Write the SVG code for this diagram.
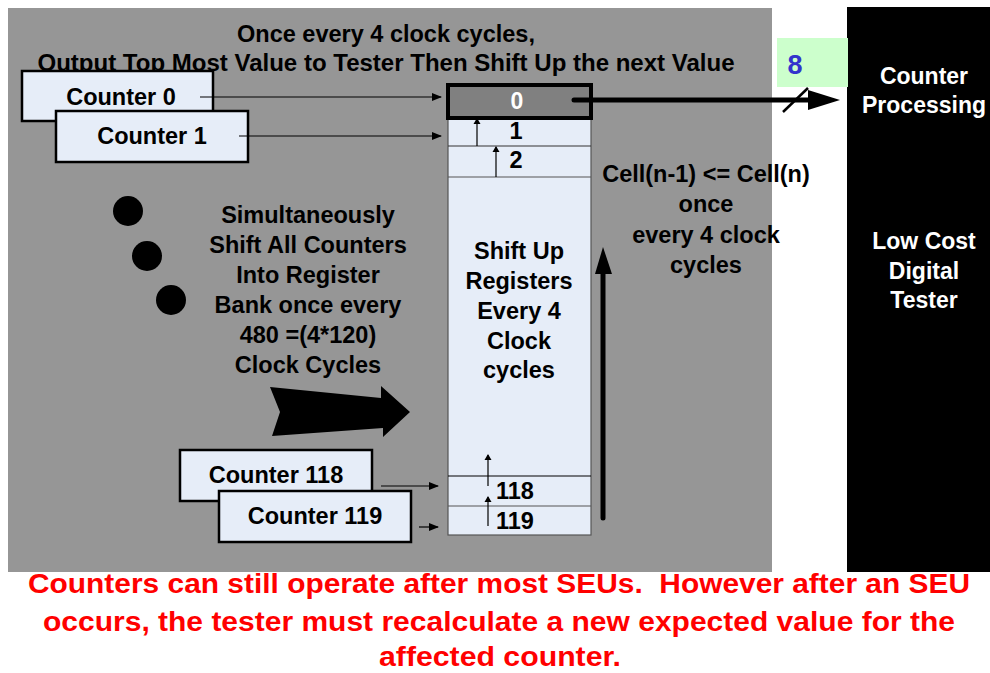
<svg xmlns="http://www.w3.org/2000/svg" width="990" height="673" viewBox="0 0 990 673">
<defs>
<style>
text{font-family:"Liberation Sans",Arial,sans-serif;font-weight:bold;}
.t{font-size:23.5px;fill:#000;text-anchor:middle;}
.cb{fill:#e6edf8;stroke:#000;stroke-width:2.5;}
.cl{font-size:23.5px;fill:#000;text-anchor:middle;}
.w{font-size:23px;fill:#fff;text-anchor:middle;}
.red{font-size:28px;fill:#ff0000;text-anchor:middle;}
.thin{stroke:#000;stroke-width:1.2;fill:none;}
.cell{fill:#e6edf8;stroke:#555;stroke-width:1.2;}
</style>
<marker id="ah" markerWidth="10" markerHeight="8" refX="9" refY="4" orient="auto" markerUnits="userSpaceOnUse">
<path d="M0,0 L10,4 L0,8 z" fill="#000"/>
</marker>
<marker id="ahs" markerWidth="6" markerHeight="10" refX="5" refY="5" orient="auto" markerUnits="userSpaceOnUse">
<path d="M0,1.5 L6,5 L0,8.5 z" fill="#000"/>
</marker>
</defs>
<rect x="0" y="0" width="990" height="673" fill="#fff"/>
<rect x="8" y="8" width="764" height="564" fill="#969696"/>
<g id="tester">
<rect x="847" y="7" width="143" height="565" fill="#000"/>
<text class="w" x="924" y="84">Counter</text>
<text class="w" x="924" y="113">Processing</text>
<text class="w" x="924" y="249">Low Cost</text>
<text class="w" x="924" y="279">Digital</text>
<text class="w" x="924" y="308">Tester</text>
</g>
<g id="bus-width">
<rect x="777" y="38" width="71" height="49" fill="#ccffcc"/>
<text x="795" y="74" style="font-size:27px;fill:#3333cc;text-anchor:middle;">8</text>
</g>
<g id="title">
<text class="t" x="386" y="42">Once every 4 clock cycles,</text>
<text class="t" x="386" y="71" textLength="697" lengthAdjust="spacingAndGlyphs">Output Top Most Value to Tester Then Shift Up the next Value</text>
</g>
<g id="register-bank">
<rect class="cell" x="448" y="118" width="143" height="417"/>
<line x1="448" y1="146" x2="591" y2="146" stroke="#333" stroke-width="1.2"/>
<line x1="448" y1="177" x2="591" y2="177" stroke="#555" stroke-width="1.2"/>
<line x1="448" y1="476" x2="591" y2="476" stroke="#000" stroke-width="1.2"/>
<line x1="448" y1="506" x2="591" y2="506" stroke="#555" stroke-width="1.2"/>
<rect x="448" y="85" width="143" height="33" fill="#808080" stroke="#000" stroke-width="4"/>
<text class="w" x="517" y="109">0</text>
<text class="cl" x="516" y="139">1</text>
<text class="cl" x="516" y="168">2</text>
<text class="cl" x="515" y="499">118</text>
<text class="cl" x="515" y="529">119</text>
<text class="cl" x="519" y="259">Shift Up</text>
<text class="cl" x="519" y="289">Registers</text>
<text class="cl" x="519" y="319">Every 4</text>
<text class="cl" x="519" y="349">Clock</text>
<text class="cl" x="519" y="378">cycles</text>
</g>
<g id="counter0">
<rect class="cb" x="22" y="71" width="191" height="50"/>
<text class="cl" x="121" y="105">Counter 0</text>
</g>
<g id="counter1">
<rect class="cb" x="56" y="111" width="192" height="51"/>
<text class="cl" x="152" y="144">Counter 1</text>
</g>
<g id="counter118">
<rect class="cb" x="180" y="450" width="192" height="51"/>
<text class="cl" x="276" y="483">Counter 118</text>
</g>
<g id="counter119">
<rect class="cb" x="219" y="491" width="192" height="51"/>
<text class="cl" x="315" y="524">Counter 119</text>
</g>
<g id="dots">
<circle cx="128" cy="211" r="15" fill="#000"/>
<circle cx="147" cy="256" r="15" fill="#000"/>
<circle cx="171" cy="300" r="15" fill="#000"/>
</g>
<g id="notes">
<text class="t" x="308" y="223">Simultaneously</text>
<text class="t" x="308" y="253">Shift All Counters</text>
<text class="t" x="308" y="283">Into Register</text>
<text class="t" x="308" y="313">Bank once every</text>
<text class="t" x="308" y="343">480 =(4*120)</text>
<text class="t" x="308" y="373">Clock Cycles</text>
<text class="t" x="706" y="182">Cell(n-1) &lt;= Cell(n)</text>
<text class="t" x="706" y="212">once</text>
<text class="t" x="706" y="243">every 4 clock</text>
<text class="t" x="706" y="273">cycles</text>
</g>
<g id="connectors">
<line class="thin" x1="200" y1="97" x2="441" y2="97" marker-end="url(#ah)"/>
<line class="thin" x1="239" y1="136" x2="441" y2="136" marker-end="url(#ah)"/>
<line class="thin" x1="381" y1="486" x2="438" y2="486" marker-end="url(#ah)"/>
<line class="thin" x1="419" y1="527" x2="438" y2="527" marker-end="url(#ah)"/>
<line class="thin" x1="477" y1="146" x2="477" y2="119" marker-end="url(#ahs)"/>
<line class="thin" x1="496" y1="177" x2="496" y2="147" marker-end="url(#ahs)"/>
<line class="thin" x1="488" y1="486" x2="488" y2="455" marker-end="url(#ahs)"/>
<line class="thin" x1="488" y1="526" x2="488" y2="497" marker-end="url(#ahs)"/>
<line x1="603" y1="518" x2="603" y2="270" stroke="#000" stroke-width="5" stroke-linecap="round"/>
<path d="M595,274 L603,247 L612,274 z" fill="#000"/>
<line x1="574" y1="100" x2="812" y2="100" stroke="#000" stroke-width="5" stroke-linecap="round"/>
<path d="M808,90 L840,100 L808,110 z" fill="#000"/>
<line x1="783" y1="112" x2="808" y2="88" stroke="#000" stroke-width="2.5"/>
<path d="M270,387 L381,398 L381,386 L410,412 L383,437 L383,428 L272,436 L280,412 z" fill="#000"/>
</g>
<g id="footer">
<text class="red" x="499" y="593" textLength="942" lengthAdjust="spacingAndGlyphs" xml:space="preserve">Counters can still operate after most SEUs.  However after an SEU</text>
<text class="red" x="499" y="631" textLength="912" lengthAdjust="spacingAndGlyphs">occurs, the tester must recalculate a new expected value for the</text>
<text class="red" x="500" y="666" textLength="242" lengthAdjust="spacingAndGlyphs" style="font-size:27px">affected counter.</text>
</g>
</svg>
